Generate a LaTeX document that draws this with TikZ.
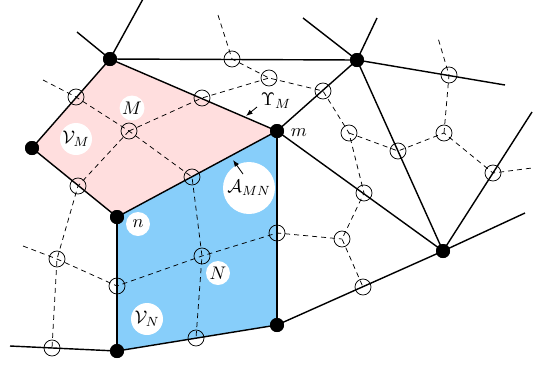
\documentclass[tikz,border=0pt]{standalone}
\usetikzlibrary{arrows.meta}
\definecolor{cellpink}{RGB}{255,222,222}
\definecolor{cellblue}{RGB}{135,206,250}
\begin{document}
\begin{tikzpicture}[x=0.6pt,y=-0.6pt,
  every node/.style={font=\fontsize{11}{13}\selectfont},
  vdot/.style={circle,fill=black,inner sep=0pt,minimum size=8.4pt},
  odot/.style={circle,draw=black,line width=0.45pt,inner sep=0pt,minimum size=9.6pt},
  edge/.style={line width=0.85pt,black},
  dual/.style={line width=0.45pt,dashed,dash pattern=on 3pt off 2.4pt},
  lab/.style={circle,fill=white,inner sep=0pt},
  pointer/.style={line width=0.5pt,-{Latex[length=4pt,width=3pt]}}]
\useasboundingbox (0,0) rectangle (533,369);
% vertex coordinates
\coordinate (pA) at (110,59);
\coordinate (pB) at (32,148);
\coordinate (pn) at (117,217);
\coordinate (pm) at (277,131);
\coordinate (pT) at (357,60);
\coordinate (pR) at (443,251);
\coordinate (pBL) at (117,351);
\coordinate (pBR) at (277,325);
% cells
\fill[cellpink] (pA) -- (pm) -- (pn) -- (pB) -- cycle;
\fill[cellblue] (pn) -- (pm) -- (pBR) -- (pBL) -- cycle;
% white label discs
\node[lab,minimum size=15pt] (lM) at (132,108) {$M$};
\node[lab,minimum size=19.2pt] (lVM) at (76,139) {$\mathcal{V}_M$};
\node[lab,minimum size=31.2pt] (lA) at (249,188) {$\mathcal{A}_{MN}$};
\node[lab,minimum size=14.4pt] (ln) at (138,224) {$n$};
\node[lab,minimum size=14.4pt] (lN) at (218,273) {$N$};
\node[lab,minimum size=19.2pt] (lVN) at (147,319) {$\mathcal{V}_N$};
% free ends
\coordinate (fA1) at (143,-1);
\coordinate (fA2) at (77,32);
\coordinate (fT1) at (303,18);
\coordinate (fT2) at (377,18);
\coordinate (fT3) at (505,85);
\coordinate (fR1) at (532,112);
\coordinate (fR2) at (525,213);
\coordinate (fBL) at (10,346);
\coordinate (fd1) at (43,80);
\coordinate (fd2) at (218,15);
\coordinate (fd3) at (23,246);
\coordinate (fd4) at (532,168);
\coordinate (fd5) at (438,38);
% dual nodes (open circles)
\node[odot] (c1) at (232,59) {};
\node[odot] (c2) at (269,78) {};
\node[odot] (c3) at (202,98) {};
\node[odot] (c4) at (76,97) {};
\node[odot] (cM) at (129,131) {};
\node[odot] (c5) at (192,177) {};
\node[odot] (c6) at (78,186) {};
\node[odot] (c7) at (277,233) {};
\node[odot] (c8) at (449,75) {};
\node[odot] (c9) at (323,91) {};
\node[odot] (c10) at (349,133) {};
\node[odot] (c11) at (398,151) {};
\node[odot] (c12) at (444,133) {};
\node[odot] (c13) at (493,173) {};
\node[odot] (c14) at (364,193) {};
\node[odot] (c15) at (342,239) {};
\node[odot] (c16) at (57,259) {};
\node[odot] (c17) at (117,286) {};
\node[odot] (cN) at (202,256) {};
\node[odot] (c18) at (363,287) {};
\node[odot] (c19) at (52,348) {};
\node[odot] (c20) at (196,338) {};
% dual (dashed) edges
\draw[dual] (fd1) -- (c4.center) -- (cM.center) -- (c5.center) -- (cN.center) -- (c20.center);
\draw[dual] (cM.center) -- (c3.center) -- (c2.center);
\draw[dual] (fd2) -- (c1.center) -- (c2.center) -- (c9.center) -- (c10.center) -- (c14.center) -- (c15.center) -- (c18.center);
\draw[dual] (cM.center) -- (c6.center) -- (c16.center) -- (c19.center);
\draw[dual] (fd3) -- (c16.center) -- (c17.center) -- (cN.center) -- (c7.center) -- (c15.center);
\draw[dual] (c10.center) -- (c11.center) -- (c12.center) -- (c13.center) -- (fd4);
\draw[dual] (c12.center) -- (c8.center) -- (fd5);
% primal vertices
\node[vdot] (vA) at (pA) {};
\node[vdot] (vB) at (pB) {};
\node[vdot] (vn) at (pn) {};
\node[vdot] (vm) at (pm) {};
\node[vdot] (vT) at (pT) {};
\node[vdot] (vR) at (pR) {};
\node[vdot] (vBL) at (pBL) {};
\node[vdot] (vBR) at (pBR) {};
% primal edges
\draw[edge] (vA.center) -- (vT.center);
\draw[edge] (vA.center) -- (vm.center) -- (vn.center) -- (vB.center) -- cycle;
\draw[edge] (vA.center) -- (fA1);
\draw[edge] (vA.center) -- (fA2);
\draw[edge] (vT.center) -- (fT1);
\draw[edge] (vT.center) -- (fT2);
\draw[edge] (vT.center) -- (fT3);
\draw[edge] (vT.center) -- (vm.center);
\draw[edge] (vT.center) -- (vR.center);
\draw[edge] (vm.center) -- (vR.center);
\draw[edge] (vm.center) -- (vBR.center);
\draw[edge] (vn.center) -- (vBL.center);
\draw[edge] (vBL.center) -- (vBR.center);
\draw[edge] (vBR.center) -- (vR.center);
\draw[edge] (vR.center) -- (fR1);
\draw[edge] (vR.center) -- (fR2);
\draw[edge] (vBL.center) -- (fBL);
% redraw dots on top
\foreach \v in {vA,vB,vn,vm,vT,vR,vBL,vBR} \fill (\v) circle (4.2pt);
% labels
\node (lm) at (299,133) {$m$};
\node (lU) at (276,101) {$\Upsilon_M$};
\coordinate (aUs) at (257,107);
\coordinate (aUe) at (246,116);
\draw[pointer] (aUs) -- (aUe);
\coordinate (aAs) at (243,174);
\coordinate (aAe) at (233,160);
\draw[pointer] (aAs) -- (aAe);
\end{tikzpicture}
\end{document}
